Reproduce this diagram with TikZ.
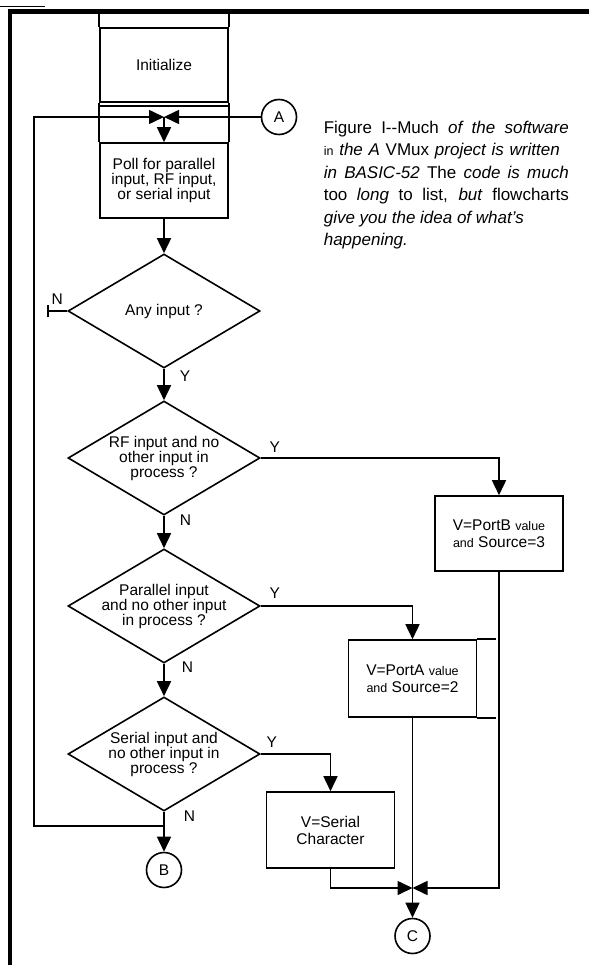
\documentclass[tikz,border=0pt]{standalone}
\usepackage{fontspec}
\setmainfont{Liberation Sans}
\usetikzlibrary{shapes.geometric,arrows.meta,positioning,calc}

\newcommand{\chartfont}{\fontsize{15.5}{15}\selectfont}
\newcommand{\boxfont}{\fontsize{15.5}{17}\selectfont}
\newcommand{\capfont}{\fontsize{17}{22.5}\selectfont}
\newcommand{\smallword}[1]{{\fontsize{12.5}{12}\selectfont #1}}

\tikzset{
  box/.style={draw, minimum width=128pt, minimum height=75pt, inner sep=2pt, align=center, font=\boxfont},
  decision/.style={draw, diamond, minimum width=192pt, minimum height=114pt, inner sep=0pt},
  qtext/.style={align=center, inner sep=0pt, font=\chartfont},
  conn/.style={draw, circle, minimum size=35pt, inner sep=0pt, font=\chartfont},
  lbl/.style={inner sep=1pt, font=\chartfont}
}

\begin{document}
\begin{tikzpicture}[x=1pt, y=-1pt, line width=1.6pt, >={Triangle[length=15pt,width=14pt]}]
  \useasboundingbox (0,0) rectangle (589,965);
  % frame
  \draw[line width=4.5pt] (10,965) -- (10,11.5) -- (589,11.5);
  \draw[line width=1pt] (0,6.5) -- (45,6.5);
  %coordinates
  \coordinate (jA) at (164,117);
  \coordinate (jB) at (164,826);
  \coordinate (loopL) at (34,826);
  \coordinate (jC) at (412.5,888);
  % Nodes
  \node[box, font=\chartfont, minimum height=74pt] (init) at (164,65) {Initialize};
  \node[conn] (conA) at (279,117) {A};
  \node[box, font=\chartfont] (poll) at (164,180.5) {Poll for parallel\\input, RF input,\\or serial input};
  \node[decision] (anyq) at (164,311) {};
  \node[qtext] (anyq-t) at (anyq) {Any input ?};
  \node[decision] (rfq) at (164,458) {};
  \node[qtext] (rfq-t) at (rfq) {RF input and no\\other input in\\process ?};
  \node[decision] (parq) at (164,606) {};
  \node[qtext] (parq-t) at (parq) {Parallel input\\and no other input\\in process ?};
  \node[decision] (serq) at (164,754) {};
  \node[qtext] (serq-t) at (serq) {Serial input and\\no other input in\\process ?};
  \node[box] (portb) at (499,533.5) {V=PortB \smallword{value}\\\smallword{and} Source=3};
  \node[box, minimum height=77pt] (porta) at (412.5,678.5) {V=PortA \smallword{value}\\\smallword{and} Source=2};
  \node[box, minimum height=76pt] (serbox) at (330.5,830) {V=Serial\\Character};
  \node[conn] (conB) at (164,870) {B};
  \node[conn] (conC) at (412.5,936) {C};
  \node[align=left, anchor=north west, inner sep=0pt, font=\capfont] (caption) at (323,120) {%
    \makebox[245pt][s]{Figure I-{}-Much \textit{of the software}}\\
    \makebox[236pt][s]{\smallword{in} \textit{the A} VMux \textit{project is written}}\\
    \makebox[245pt][s]{\textit{in BASIC-52} The \textit{code is much}}\\
    \makebox[245pt][s]{too \textit{long} to list, \textit{but} flowcharts}\\
    \textit{give you the idea of what's}\\
    \textit{happening.}};
  % Initialize column
  \draw (init.north west) -- ++(0,-14);
  \draw (init.north east) -- ++(0,-14);
  \draw (init.south west) -- (poll.north west);
  \draw (init.south east) -- (poll.north east);
  \draw ($(init.south west)+(0,3)$) -- ($(init.south east)+(0,3)$);
  % Edges
  \draw[->] (jB) -- (loopL) |- (jA);
  \draw[->] (conA) -- (jA);
  \draw[->] (jA) -- (poll);
  \draw[->] (poll) -- (anyq);
  \draw[-{Bar[width=12pt]}] (anyq.west) -- ++(-20,0) node[lbl, midway, above=5pt] {N};
  \draw[->] (anyq) -- node[lbl, pos=0.25, right=14pt] {Y} (rfq);
  \draw[->] (rfq.east) node[lbl, above right=4pt and 7pt] {Y} -| (portb.north);
  \draw[->] (rfq) -- node[lbl, pos=0.15, right=14pt] {N} (parq);
  \draw[->] (parq.east) node[lbl, above right=6pt and 7pt] {Y} -| (porta.north);
  \draw[->] (parq) -- node[lbl, pos=0.1, right=16pt] {N} (serq);
  \draw[->] (serq.east) node[lbl, above right=5pt and 4pt] {Y} -| (serbox.north);
  \draw[->] (serq) -- node[lbl, pos=0.1, right=18pt] {N} (conB);
  \draw[->] (serbox.south) |- (jC);
  \draw[->] (portb.south) |- (jC);
  \draw (porta.south) -- (jC);
  \draw[->] (jC) -- (conC);
  \draw (porta.north east) -- ++(19,0);
  \draw (porta.south east) -- ++(19,0);
\end{tikzpicture}
\end{document}
